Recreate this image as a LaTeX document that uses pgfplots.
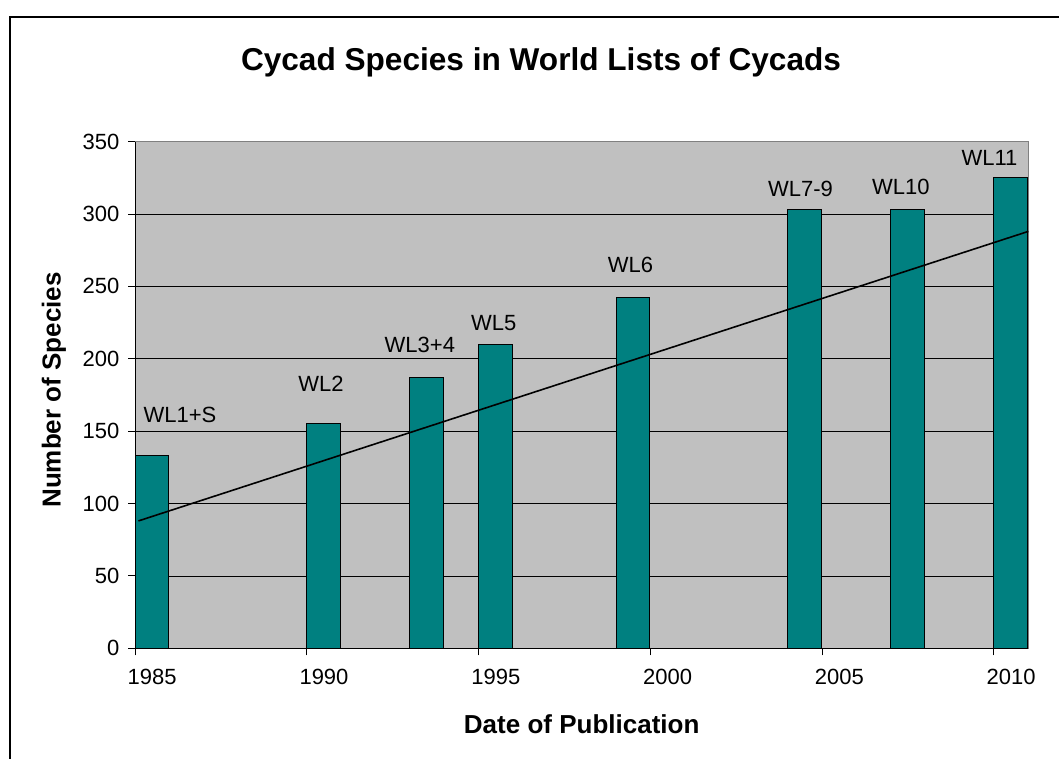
\documentclass[border=0pt]{standalone}
\usepackage{pgfplots}
\pgfplotsset{compat=1.18}
\usepackage{fontspec}
\setmainfont{Liberation Sans}
\definecolor{barteal}{HTML}{008080}
\definecolor{plotgray}{HTML}{C0C0C0}
\definecolor{bordergray}{HTML}{808080}
\newcommand\tfont{\fontsize{16.5}{20}\selectfont}
\begin{document}
\begin{tikzpicture}[x=0.75pt,y=0.75pt]
\begin{axis}[
  at={(101.25pt,82.275pt)}, anchor=south west,
  scale only axis, width=670pt, height=380pt,
  xmin=1985, xmax=2011, ymin=0, ymax=350,
  xtick={1985,1990,1995,2000,2005,2010},
  xticklabels={1985,1990,1995,2000,2005,2010},
  ytick={0,50,100,150,200,250,300,350},
  yticklabels={0,50,100,150,200,250,300,350},
  tick pos=left, tick align=outside,
  major tick length=5.25pt,
  tick style={black, line width=0.75pt},
  ymajorgrids, grid style={black, line width=0.6pt},
  axis background/.style={fill=plotgray},
  axis line style={bordergray, line width=0.75pt},
  ticklabel style={font=\tfont},
  xticklabel style={xshift=12.9pt, yshift=-6.7pt},
  yticklabel style={xshift=-3pt},
  clip=false,
]
\addplot[ybar, fill=barteal, draw=black, line width=0.75pt, bar width=25.2pt, bar shift=12.6pt]
  coordinates {(1985,133) (1990,155) (1993,187) (1995,210) (1999,242) (2004,303) (2007,303) (2010,325)};
\addplot[black, line width=1.2pt] coordinates {(1985.1,88) (2011,288)};
\draw[black, line width=0.75pt] (rel axis cs:0,1) -- (rel axis cs:0,0) -- (rel axis cs:1,0);
\node[font=\tfont] at (axis cs:1986.31,161.5) {WL1+S};
\node[font=\tfont] at (axis cs:1990.41,183) {WL2};
\node[font=\tfont] at (axis cs:1993.29,209.5) {WL3+4};
\node[font=\tfont] at (axis cs:1995.44,224.6) {WL5};
\node[font=\tfont] at (axis cs:1999.42,265) {WL6};
\node[font=\tfont] at (axis cs:2004.37,317.3) {WL7-9};
\node[font=\tfont] at (axis cs:2007.29,318.6) {WL10};
\node[font=\tfont] at (axis cs:2009.87,338.4) {WL11};
\end{axis}
\node[font=\fontsize{23.7}{28}\selectfont\bfseries, anchor=base] at (541,687) {Cycad Species in World Lists of Cycads};
\node[font=\fontsize{19.5}{24}\selectfont\bfseries, anchor=base] at (581.7,24.7) {Date of Publication};
\node[font=\fontsize{19.5}{24}\selectfont\bfseries, anchor=base, rotate=90] at (60.5,368) {Number of Species};
\draw[line width=1.5pt] (10,-10) -- (10,741.3) -- (1080,741.3);
\pgfresetboundingbox
\useasboundingbox (0,0) rectangle (1059,758);
\end{tikzpicture}
\end{document}
